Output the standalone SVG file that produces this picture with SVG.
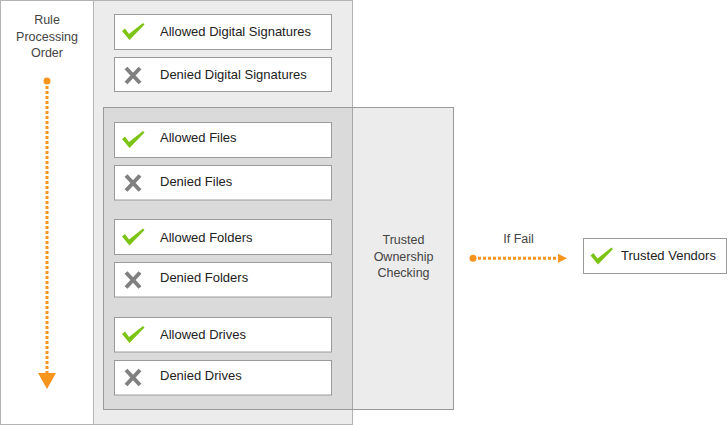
<svg xmlns="http://www.w3.org/2000/svg" width="728" height="425" viewBox="0 0 728 425">
<style>
  .panel{stroke:#b4b4b4;stroke-width:1}
  .box{fill:#fff;stroke:#9a9a9a;stroke-width:1}
  .lbl{font-family:"Liberation Sans",Arial,sans-serif;font-size:13px;fill:#222}
  .cap{font-family:"Liberation Sans",Arial,sans-serif;font-size:12.5px;fill:#444;text-anchor:middle}
  .dot{fill:none;stroke:#f7941d;stroke-width:3;stroke-dasharray:3 2}
  .xic{stroke:#808080;stroke-width:4;fill:none}
</style>
<defs>
  <path id="chk" d="M -11,-0.5 L -8,-3 L -4,2.5 L 10,-8.5 L 11.5,-7 L -3.5,8.5 Z" fill="#7cc414"/>
  <g id="xmark"><path class="xic" d="M -7,-7.5 L 7,7.5 M 7,-7.5 L -7,7.5"/></g>
</defs>
<rect width="728" height="425" fill="#fff"/>
<g id="order-panel">
  <rect class="panel" x="0.5" y="0.5" width="93" height="424" fill="#fff"/>
  <text class="cap" x="47" y="24">Rule</text>
  <text class="cap" x="47" y="40.5">Processing</text>
  <text class="cap" x="47" y="57">Order</text>
</g>
<g id="rules-panel">
  <rect class="panel" x="93.5" y="0.5" width="259" height="424" fill="#ececec"/>
</g>
<g id="trusted-ownership">
  <rect x="103.5" y="107.5" width="350" height="302" fill="#000" fill-opacity="0.075" stroke="#9a9a9a" stroke-width="1"/>
  <text class="cap" x="403.5" y="244">Trusted</text>
  <text class="cap" x="403.5" y="260.5">Ownership</text>
  <text class="cap" x="403.5" y="277">Checking</text>
</g>
<g id="allowed-digital-signatures">
  <rect class="box" x="114.5" y="14.5" width="217" height="35"/>
  <use href="#chk" x="133" y="31.5"/>
  <text class="lbl" x="160" y="36">Allowed Digital Signatures</text>
</g>
<g id="denied-digital-signatures">
  <rect class="box" x="114.5" y="57.5" width="217" height="34"/>
  <use href="#xmark" x="133" y="75.5"/>
  <text class="lbl" x="160" y="78.5">Denied Digital Signatures</text>
</g>
<g id="allowed-files">
  <rect class="box" x="114.5" y="122.5" width="217" height="35"/>
  <use href="#chk" x="133" y="139.5"/>
  <text class="lbl" x="160" y="141.5">Allowed Files</text>
</g>
<g id="denied-files">
  <rect class="box" x="114.5" y="165.5" width="217" height="34.5"/>
  <use href="#xmark" x="133" y="183"/>
  <text class="lbl" x="160" y="185.5">Denied Files</text>
</g>
<g id="allowed-folders">
  <rect class="box" x="114.5" y="219.5" width="217" height="35"/>
  <use href="#chk" x="133" y="237"/>
  <text class="lbl" x="160" y="241.5">Allowed Folders</text>
</g>
<g id="denied-folders">
  <rect class="box" x="114.5" y="262.5" width="217" height="34.5"/>
  <use href="#xmark" x="133" y="280"/>
  <text class="lbl" x="160" y="281.5">Denied Folders</text>
</g>
<g id="allowed-drives">
  <rect class="box" x="114.5" y="317.5" width="217" height="34.5"/>
  <use href="#chk" x="133" y="334.5"/>
  <text class="lbl" x="160" y="338.5">Allowed Drives</text>
</g>
<g id="denied-drives">
  <rect class="box" x="114.5" y="360.5" width="217" height="34.5"/>
  <use href="#xmark" x="133" y="377.5"/>
  <text class="lbl" x="160" y="379.5">Denied Drives</text>
</g>
<g id="trusted-vendors">
  <rect class="box" x="583.5" y="238.5" width="143" height="35"/>
  <use href="#chk" x="601.5" y="256"/>
  <text class="lbl" x="621" y="259.5">Trusted Vendors</text>
</g>
<g id="connectors">
  <circle cx="47" cy="81" r="3.5" fill="#f7941d"/>
  <path class="dot" d="M 47,86 L 47,373"/>
  <polygon points="38,373 56,373 47,389" fill="#f7941d"/>
  <circle cx="473" cy="258.3" r="3.5" fill="#f7941d"/>
  <path class="dot" d="M 478,258.3 L 558,258.3"/>
  <polygon points="558,253.8 567,258.3 558,262.8" fill="#f7941d"/>
  <text class="cap" x="518.5" y="243">If Fail</text>
</g>
</svg>
